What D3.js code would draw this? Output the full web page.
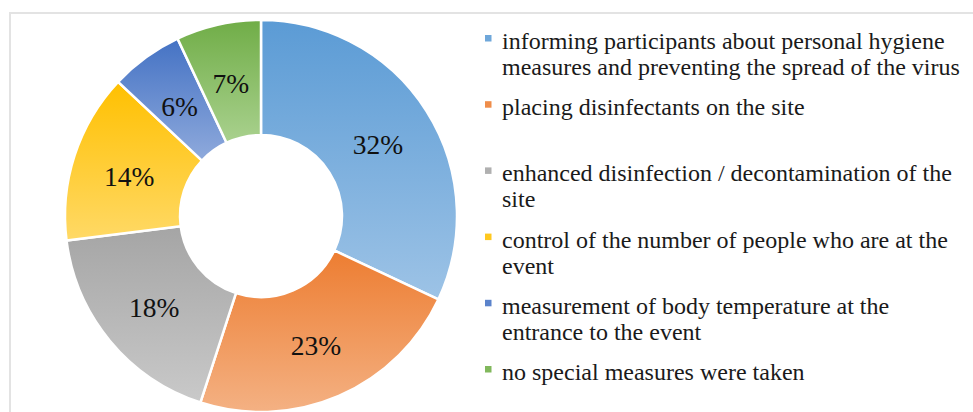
<!DOCTYPE html>
<html>
<head>
<meta charset="utf-8">
<script src="https://cdn.jsdelivr.net/npm/d3@7"></script>
<style>
  body { margin: 0; background: #fff; }
  svg { display: block; }
</style>
</head>
<body>
<svg id="chart" width="973" height="412"></svg>
<script>
// categories, as they wrap in the legend
var categories = [
  ['informing participants about personal hygiene', 'measures and preventing the spread of the virus'],
  ['placing disinfectants on the site'],
  ['enhanced disinfection / decontamination of the', 'site'],
  ['control of the number of people who are at the', 'event'],
  ['measurement of body temperature at the', 'entrance to the event'],
  ['no special measures were taken']
];
var values = [32, 23, 18, 14, 6, 7];
var topColors = ['#5B9BD5', '#ED7D31', '#A5A5A5', '#FFC000', '#4472C4', '#70AD47'];
var bottomColors = ['#9DC3E6', '#F4B183', '#C9C9C9', '#FFD966', '#8FAADC', '#A9D18E'];

var serif = "'Liberation Serif', 'Times New Roman', Tinos, 'Nimbus Roman', FreeSerif, 'Noto Serif', 'DejaVu Serif', serif";

var svg = d3.select('#chart');

//light frame, only top and left show inside the picture
svg.append('rect')
  .attr('x', 10).attr('y', 13)
  .attr('width', 1000).attr('height', 500)
  .attr('fill', 'none')
  .attr('stroke', '#e3e3e3')
  .attr('stroke-width', 2);

//gradients for each slice, dark at the top, light at the bottom
var defs = svg.append('defs');
values.forEach(function (v, i) {
  var g = defs.append('linearGradient')
    .attr('id', 'grad' + i)
    .attr('x1', 0).attr('y1', 0).attr('x2', 0).attr('y2', 1);
  g.append('stop').attr('offset', '0%').attr('stop-color', topColors[i]);
  g.append('stop').attr('offset', '100%').attr('stop-color', bottomColors[i]);
});

var cx = 261, cy = 216, outerR = 196, innerR = 81;

var pie = d3.pie().sort(null).value(function (d) { return d; });
var arc = d3.arc().innerRadius(innerR).outerRadius(outerR);
var labelArc = d3.arc().innerRadius((innerR + outerR) / 2).outerRadius((innerR + outerR) / 2);
var total = d3.sum(values);

var donut = svg.append('g').attr('transform', 'translate(' + cx + ',' + cy + ')');

var slices = donut.selectAll('g.slice')
  .data(pie(values))
  .enter().append('g')
  .attr('class', 'slice');

slices.append('path')
  .attr('d', arc)
  .attr('fill', function (d, i) { return 'url(#grad' + i + ')'; })
  .attr('stroke', '#fff')
  .attr('stroke-width', 2.5)
  .attr('stroke-linejoin', 'miter');

slices.append('text')
  .attr('font-family', serif)
  .attr('font-size', 27.5)
  .attr('fill', '#111')
  .attr('transform', function (d) { return 'translate(' + labelArc.centroid(d) + ')'; })
  .attr('text-anchor', 'middle')
  .attr('dy', '0.45em')
  .text(function (d) { return Math.round(d.value / total * 100) + '%'; });

//legend
var legX = 502, legTop = 49, legStep = 66.2, lineH = 26;
var leg = svg.append('g');
var items = leg.selectAll('g.item')
  .data(categories)
  .enter().append('g')
  .attr('class', 'item')
  .attr('transform', function (d, i) { return 'translate(0,' + (legTop + i * legStep) + ')'; });

items.append('rect')
  .attr('x', 485).attr('y', -14)
  .attr('width', 6.5).attr('height', 6.5)
  .attr('fill', function (d, i) { return d3.interpolateRgb(topColors[i], bottomColors[i])(0.3); });

items.append('text')
  .attr('font-family', serif)
  .attr('font-size', 24)
  .attr('fill', '#1a1a1a')
  .selectAll('tspan')
  .data(function (d) { return d; })
  .enter().append('tspan')
  .attr('x', legX)
  .attr('y', function (d, j) { return j * lineH; })
  .text(function (d) { return d; });
</script>
</body>
</html>
